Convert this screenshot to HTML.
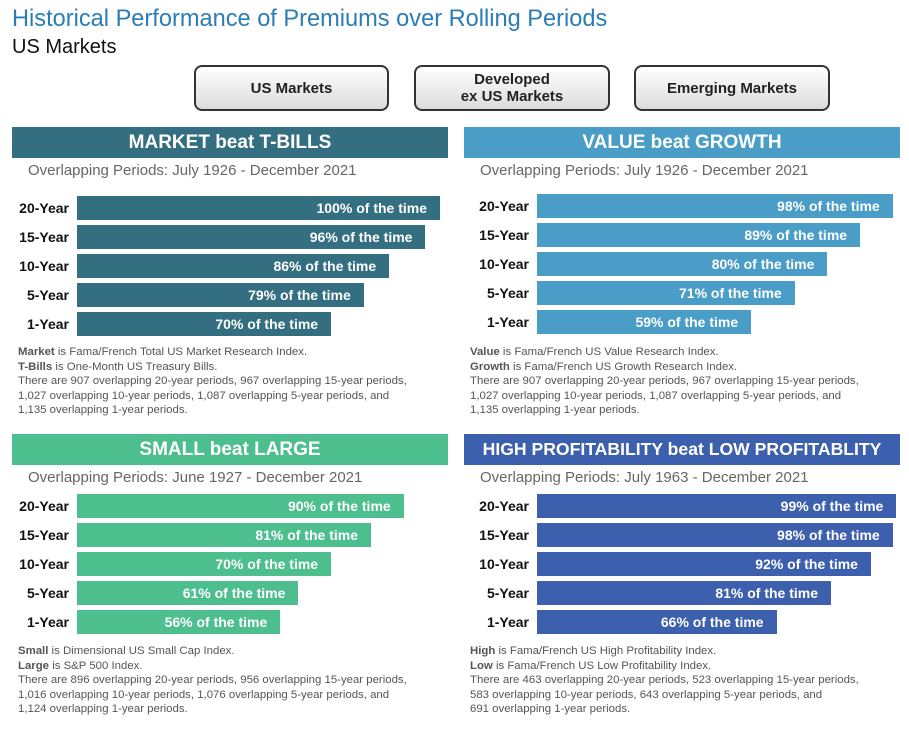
<!DOCTYPE html>
<html><head><meta charset="utf-8"><style>
body{margin:0;width:909px;height:730px;background:#fff;position:relative;overflow:hidden;font-family:"Liberation Sans",sans-serif}
.abs{position:absolute}
.title{left:12px;top:6px;font-size:23.6px;color:#2a7db6}
.sub{left:12px;top:36px;font-size:20px;color:#111}
.btn{position:absolute;top:65px;height:46px;border:2px solid #333;border-radius:8px;background:linear-gradient(#fff,#dcdcdc);box-sizing:border-box;display:flex;align-items:center;justify-content:center;text-align:center;font-weight:bold;font-size:15px;color:#222;line-height:17px}
.hdr{position:absolute;height:31px;color:#fff;font-weight:bold;font-size:19px;display:flex;align-items:center;justify-content:center}
.per{position:absolute;font-size:15px;color:#666}
.bar{position:absolute;height:24px;color:#fff;font-weight:bold;font-size:14px;box-sizing:border-box;padding-right:13px;display:flex;align-items:center;justify-content:flex-end}
.lab{position:absolute;width:62px;text-align:right;font-weight:bold;font-size:14px;color:#111}
.note{position:absolute;font-size:11.4px;color:#555;line-height:14.6px;width:440px;white-space:nowrap}
</style></head><body>
<div class="abs title">Historical Performance of Premiums over Rolling Periods</div>
<div class="abs sub">US Markets</div>
<div class="btn" style="left:194px;width:195px">US Markets</div>
<div class="btn" style="left:414px;width:196px">Developed<br>ex US Markets</div>
<div class="btn" style="left:634px;width:196px">Emerging Markets</div>
<div id="root"></div>
<script>
const periods=["20-Year","15-Year","10-Year","5-Year","1-Year"];
const marketVals=[100,96,86,79,70];
const valueVals=[98,89,80,71,59];
const smallVals=[90,81,70,61,56];
const profitVals=[99,98,92,81,66];
const panels=[
 {name:"market-vs-tbills",x:12,y:127,bx:77,by:196,noteY:345,fs:19,color:"#336f80",title:"MARKET beat T-BILLS",period:"Overlapping Periods: July 1926 - December 2021",vals:marketVals,
  note:"<b>Market</b> is Fama/French Total US Market Research Index.<br><b>T-Bills</b> is One-Month US Treasury Bills.<br>There are 907 overlapping 20-year periods, 967 overlapping 15-year periods,<br>1,027 overlapping 10-year periods, 1,087 overlapping 5-year periods, and<br>1,135 overlapping 1-year periods."},
 {name:"value-vs-growth",x:464,y:127,bx:537,by:194,noteY:345,fs:19,color:"#4a9dc6",title:"VALUE beat GROWTH",period:"Overlapping Periods: July 1926 - December 2021",vals:valueVals,
  note:"<b>Value</b> is Fama/French US Value Research Index.<br><b>Growth</b> is Fama/French US Growth Research Index.<br>There are 907 overlapping 20-year periods, 967 overlapping 15-year periods,<br>1,027 overlapping 10-year periods, 1,087 overlapping 5-year periods, and<br>1,135 overlapping 1-year periods."},
 {name:"small-vs-large",x:12,y:434,bx:77,by:494,noteY:644,fs:19,color:"#4dbe8d",title:"SMALL beat LARGE",period:"Overlapping Periods: June 1927 - December 2021",vals:smallVals,
  note:"<b>Small</b> is Dimensional US Small Cap Index.<br><b>Large</b> is S&amp;P 500 Index.<br>There are 896 overlapping 20-year periods, 956 overlapping 15-year periods,<br>1,016 overlapping 10-year periods, 1,076 overlapping 5-year periods, and<br>1,124 overlapping 1-year periods."},
 {name:"high-vs-low-profitability",x:464,y:434,bx:537,by:494,noteY:644,fs:17.6,color:"#3c5fae",title:"HIGH PROFITABILITY beat LOW PROFITABLITY",period:"Overlapping Periods: July 1963 - December 2021",vals:profitVals,
  note:"<b>High</b> is Fama/French US High Profitability Index.<br><b>Low</b> is Fama/French US Low Profitability Index.<br>There are 463 overlapping 20-year periods, 523 overlapping 15-year periods,<br>583 overlapping 10-year periods, 643 overlapping 5-year periods, and<br>691 overlapping 1-year periods."}
];
const root=document.getElementById('root');
function xScale(v){return v*3.63;}
panels.forEach(p=>{
 const h=document.createElement('div');h.className='hdr';
 h.style.left=p.x+'px';h.style.top=p.y+'px';h.style.width='436px';h.style.background=p.color;h.style.fontSize=p.fs+'px';h.textContent=p.title;
 
 
 root.appendChild(h);
 const pe=document.createElement('div');pe.className='per';
 pe.style.left=(p.x+16)+'px';pe.style.top=(p.y+35)+'px';pe.textContent=p.period;
 
 
 root.appendChild(pe);
 p.vals.forEach((v,i)=>{
  const l=document.createElement('div');l.className='lab';
  l.style.left=(p.bx-70)+'px';l.style.top=(p.by+i*29+4)+'px';l.textContent=periods[i];
  
  
  root.appendChild(l);
  const b=document.createElement('div');b.className='bar';
  b.style.left=p.bx+'px';b.style.top=(p.by+i*29)+'px';b.style.width=xScale(v)+'px';b.style.background=p.color;
  b.textContent=v+'% of the time';
  
  
  root.appendChild(b);
 });
 const n=document.createElement('div');n.className='note';
 n.style.left=(p.x+6)+'px';n.style.top=p.noteY+'px';n.innerHTML=p.note;
 
 
 root.appendChild(n);
});
</script>
</body></html>
